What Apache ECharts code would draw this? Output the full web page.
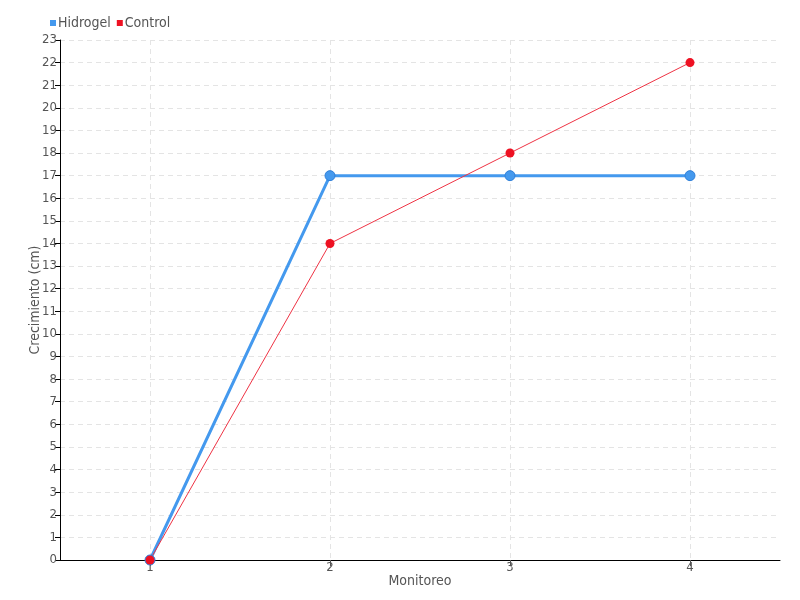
<!DOCTYPE html>
<html><head><meta charset="utf-8">
<script src="https://cdn.jsdelivr.net/npm/echarts@6/dist/echarts.min.js"></script>
<style>html,body{margin:0;padding:0;background:#fff}#c{width:800px;height:600px}</style>
</head><body><div id="c"></div>
<script>
const categories = [1, 2, 3, 4];
const hidrogel = [0, 17, 17, 17];
const control = [0, 14, 18, 22];
const FONT = 'DejaVu Sans Condensed';
const toPairs = vals => categories.map((c, i) => [c, vals[i]]);
const chart = echarts.init(document.getElementById('c'), null, {renderer: 'canvas'});
chart.setOption({
  animation: false,
  textStyle: {fontFamily: FONT},
  legend: {
    left: 45, top: 11, itemWidth: 6, itemHeight: 6, itemGap: 6,
    icon: 'rect',
    itemStyle: {borderWidth: 0},
    textStyle: {fontFamily: FONT, fontSize: 14, color: '#555', padding: [0, 0, 0, -3]},
    data: ['Hidrogel', 'Control']
  },
  grid: {left: 60, right: 20, top: 40, bottom: 40, containLabel: false},
  xAxis: {
    type: 'value', min: 0.5, max: 4.5,
    name: 'Monitoreo', nameLocation: 'middle', nameGap: 14, nameMoveOverlap: false,
    nameTextStyle: {fontFamily: FONT, fontSize: 14, color: '#555'},
    axisLine: {lineStyle: {color: '#000', width: 1}},
    axisTick: {show: true, customValues: categories, length: 6, lineStyle: {color: '#555'}},
    axisLabel: {customValues: categories, fontFamily: FONT, fontSize: 13, color: '#555', margin: 1},
    splitLine: {show: true, lineStyle: {color: '#e4e4e4', type: [5, 4]}}
  },
  yAxis: {
    type: 'value', min: 0, max: 23, interval: 1,
    name: 'Crecimiento (cm)', nameLocation: 'middle', nameGap: 18, nameMoveOverlap: false,
    nameTextStyle: {fontFamily: FONT, fontSize: 14, color: '#555'},
    axisLine: {show: true, lineStyle: {color: '#000', width: 1}},
    axisTick: {show: true, length: 5, lineStyle: {color: '#000'}},
    axisLabel: {fontFamily: FONT, fontSize: 13, color: '#555', margin: 3},
    splitLine: {show: true, lineStyle: {color: '#e4e4e4', type: [5, 4]}}
  },
  series: [
    {
      name: 'Hidrogel', type: 'line', data: toPairs(hidrogel),
      symbol: 'circle', symbolSize: 10,
      itemStyle: {color: '#4499ee', borderColor: '#2f7fd8', borderWidth: 1},
      lineStyle: {color: '#4499ee', width: 3}
    },
    {
      name: 'Control', type: 'line', data: toPairs(control),
      symbol: 'circle', symbolSize: 9,
      itemStyle: {color: '#ee1122'},
      lineStyle: {color: '#ee3344', width: 1}
    }
  ]
});
</script></body></html>
